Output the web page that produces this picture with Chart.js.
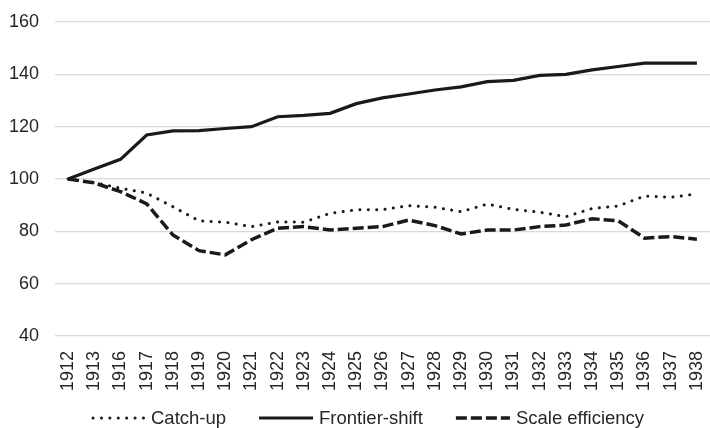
<!DOCTYPE html>
<html>
<head>
<meta charset="utf-8">
<script src="https://cdn.jsdelivr.net/npm/chart.js@4"></script>
<style>
  html, body { margin: 0; padding: 0; background: #fff; }
  #wrap { width: 710px; height: 428px; }
</style>
</head>
<body>
<div id="wrap"><canvas id="chart" width="710" height="428"></canvas></div>
<script>
// Data
const years = ['1912', '1913', '1916', '1917', '1918', '1919', '1920', '1921', '1922', '1923',
  '1924', '1925', '1926', '1927', '1928', '1929', '1930', '1931', '1932', '1933',
  '1934', '1935', '1936', '1937', '1938'];

const catchUp = [100, 98.6, 96.5, 94.6, 89.4, 84.0, 83.5, 81.8, 83.6, 83.5,
  86.9, 88.2, 88.3, 89.8, 89.2, 87.5, 90.4, 88.4, 87.3, 85.6,
  88.7, 89.7, 93.5, 93.0, 94.3];

const frontierShift = [100, 103.8, 107.5, 116.8, 118.4, 118.5, 119.3, 120.0, 123.8, 124.3,
  125.1, 128.8, 131.0, 132.5, 134.0, 135.2, 137.2, 137.7, 139.6, 140.0,
  141.7, 143.0, 144.3, 144.3, 144.3];

const scaleEfficiency = [100, 98.5, 95.2, 90.5, 78.6, 72.6, 71.0, 76.8, 81.2, 81.8,
  80.5, 81.2, 81.8, 84.3, 82.2, 79.0, 80.5, 80.5, 81.8, 82.4,
  84.8, 84.0, 77.4, 78.0, 77.0];

const yTicks = [40, 60, 80, 100, 120, 140, 160];

const ink = '#1a1a1a';
const font = { family: '"Liberation Sans", Arial, sans-serif', size: 18 };

// legend drawn under the axis, like the original
const bottomLegend = {
  id: 'bottomLegend',
  afterDraw(chart) {
    const ctx = chart.ctx;
    const sets = chart.data.datasets;
    const lineLen = 54, gapText = 6, gapItem = 33;
    ctx.save();
    ctx.font = '18.5px ' + font.family;
    let x = 91;
    const y = 418;
    sets.forEach(d => {
      ctx.beginPath();
      ctx.strokeStyle = d.borderColor;
      ctx.lineWidth = d.borderWidth;
      ctx.lineCap = d.borderCapStyle || 'butt';
      ctx.setLineDash(d.borderDash || []);
      ctx.moveTo(x + (d.borderCapStyle === 'round' ? 2 : 0), y);
      ctx.lineTo(x + lineLen, y);
      ctx.stroke();
      ctx.setLineDash([]);
      ctx.fillStyle = '#262626';
      ctx.textBaseline = 'middle';
      ctx.fillText(d.label, x + lineLen + gapText, y + 1);
      x += lineLen + gapText + ctx.measureText(d.label).width + gapItem;
    });
    ctx.restore();
  }
};

new Chart(document.getElementById('chart'), {
  type: 'line',
  data: {
    labels: years,
    datasets: [
      {
        label: 'Catch-up',
        data: catchUp,
        borderColor: ink,
        borderWidth: 3,
        borderDash: [0.1, 8.3],
        borderCapStyle: 'round',
        pointRadius: 0,
        tension: 0
      },
      {
        label: 'Frontier-shift',
        data: frontierShift,
        borderColor: ink,
        borderWidth: 3.2,
        pointRadius: 0,
        tension: 0
      },
      {
        label: 'Scale efficiency',
        data: scaleEfficiency,
        borderColor: ink,
        borderWidth: 3.5,
        borderDash: [11, 4],
        pointRadius: 0,
        tension: 0
      }
    ]
  },
  options: {
    responsive: false,
    animation: false,
    layout: { padding: { top: 22, right: 0, bottom: 30, left: 0 } },
    plugins: {
      legend: { display: false },
      tooltip: { enabled: false }
    },
    scales: {
      x: {
        offset: true,
        grid: { display: false },
        border: { display: false },
        ticks: {
          color: '#262626',
          font: font,
          autoSkip: false,
          minRotation: 90,
          maxRotation: 90,
          padding: 7
        },
        afterFit: s => { s.height = 62; s.paddingRight = 0; s.paddingLeft = 0; }
      },
      y: {
        min: 40,
        max: 160,
        afterBuildTicks: s => { s.ticks = yTicks.map(v => ({ value: v })); },
        grid: { color: '#d9d9d9', lineWidth: 1.3, drawTicks: false },
        border: { display: false },
        ticks: { color: '#262626', font: font, padding: 16 },
        afterFit: s => { s.width = 55; s.paddingTop = 0; s.paddingBottom = 0; }
      }
    }
  },
  plugins: [bottomLegend]
});
</script>
</body>
</html>
